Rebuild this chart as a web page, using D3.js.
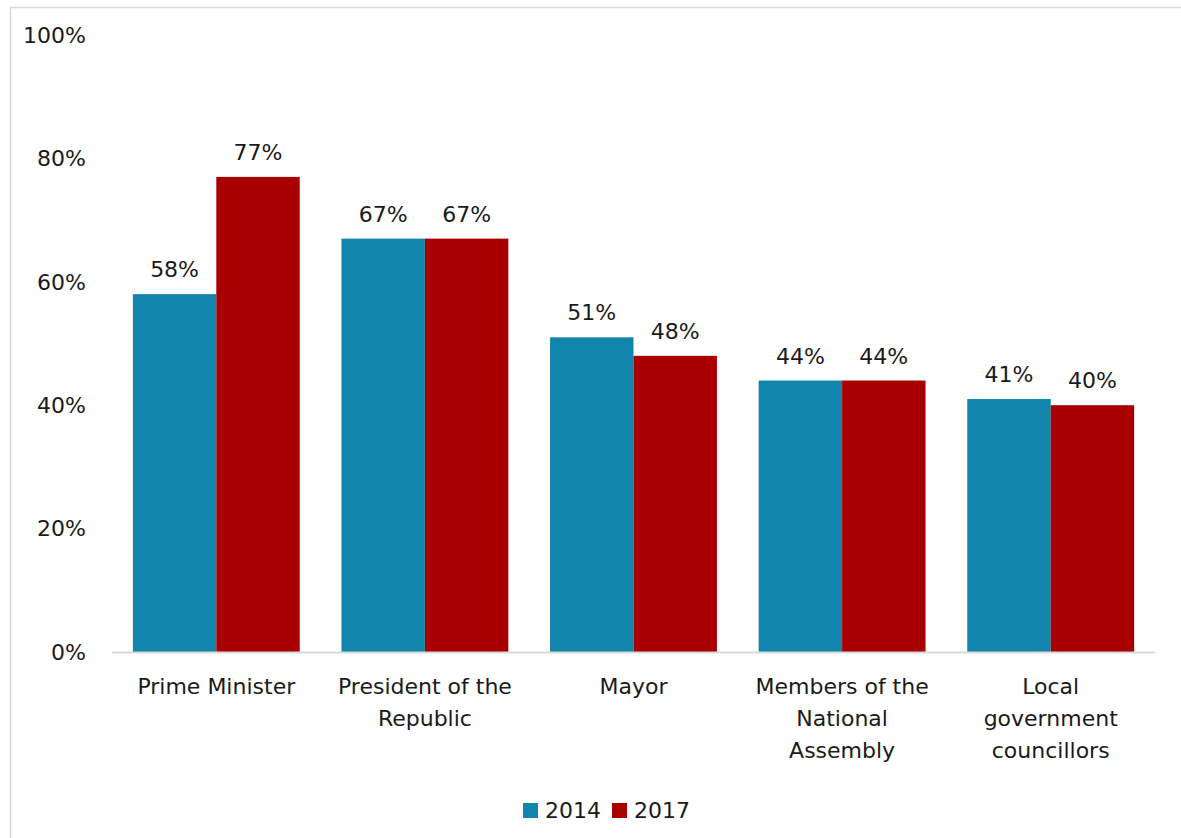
<!DOCTYPE html>
<html><head><meta charset="utf-8">
<script src="https://cdn.jsdelivr.net/npm/d3@7"></script>
<style>body{margin:0;background:#fff}svg{display:block}text{font-family:"Century Gothic","DejaVu Sans",sans-serif;fill:#1a1a1a}</style>
</head><body><svg id="c" width="1181" height="838"></svg>
<script>
const categories = [["Prime Minister"],["President of the","Republic"],["Mayor"],["Members of the","National","Assembly"],["Local","government","councillors"]];
const seriesNames = ["2014","2017"];
const values2014 = [58,67,51,44,41];
const values2017 = [77,67,48,44,40];
const yTicks = [0,20,40,60,80,100];
const colors = ["#1185AB","#A80000"];

(function(){
const svg = d3.select("#c");
const W=1181,H=838;
svg.append("rect").attr("x",10.5).attr("y",7.5).attr("width",W).attr("height",H).attr("fill","none").attr("stroke","#d9d9d9").attr("stroke-width",1.5);

const pLeft=112,pRight=1155,pTop=35,pBottom=652;
const keys = categories.map(c=>c.join(" "));
const x0 = d3.scaleBand().domain(keys).range([pLeft,pRight]).paddingInner(0.2).paddingOuter(0.1);
const x1 = d3.scaleBand().domain(seriesNames).range([0,x0.bandwidth()]);
const y = d3.scaleLinear().domain([0,100]).range([pBottom,pTop]);

svg.append("g").selectAll("text").data(yTicks).join("text")
  .attr("x",86).attr("y",d=>y(d)).attr("dy","0.35em").attr("text-anchor","end")
  .attr("font-size",22).text(d=>d+"%");

const data = keys.map((k,i)=>({k, vals:[values2014[i],values2017[i]]}));
const g = svg.append("g").selectAll("g").data(data).join("g").attr("transform",d=>`translate(${x0(d.k)},0)`);
g.selectAll("rect").data(d=>d.vals.map((v,j)=>({v,s:seriesNames[j],j}))).join("rect")
  .attr("x",d=>x1(d.s)).attr("width",x1.bandwidth()).attr("y",d=>y(d.v)).attr("height",d=>y(0)-y(d.v))
  .attr("fill",d=>colors[d.j]);
g.selectAll("text.v").data(d=>d.vals.map((v,j)=>({v,s:seriesNames[j]}))).join("text").attr("class","v")
  .attr("x",d=>x1(d.s)+x1.bandwidth()/2).attr("y",d=>y(d.v)-17).attr("text-anchor","middle")
  .attr("font-size",22).text(d=>d.v+"%");

svg.append("line").attr("x1",pLeft).attr("x2",pRight).attr("y1",pBottom+0.5).attr("y2",pBottom+0.5).attr("stroke","#d9d9d9").attr("stroke-width",2);

const cl = svg.append("g").selectAll("text").data(categories).join("text")
  .attr("text-anchor","middle").attr("font-size",22)
  .attr("transform",(d,i)=>`translate(${x0(keys[i])+x0.bandwidth()/2},694)`);
cl.selectAll("tspan").data(d=>d).join("tspan").attr("x",0).attr("y",(d,i)=>i*32).text(d=>d);

const leg = svg.append("g").attr("transform","translate(523,803)");
const li = leg.selectAll("g").data(seriesNames).join("g").attr("transform",(d,i)=>`translate(${i*89},0)`);
li.append("rect").attr("width",15).attr("height",15).attr("fill",(d,i)=>colors[i]);
li.append("text").attr("x",22).attr("y",7.5).attr("dy","0.35em").attr("font-size",22).text(d=>d);
})();
</script></body></html>
